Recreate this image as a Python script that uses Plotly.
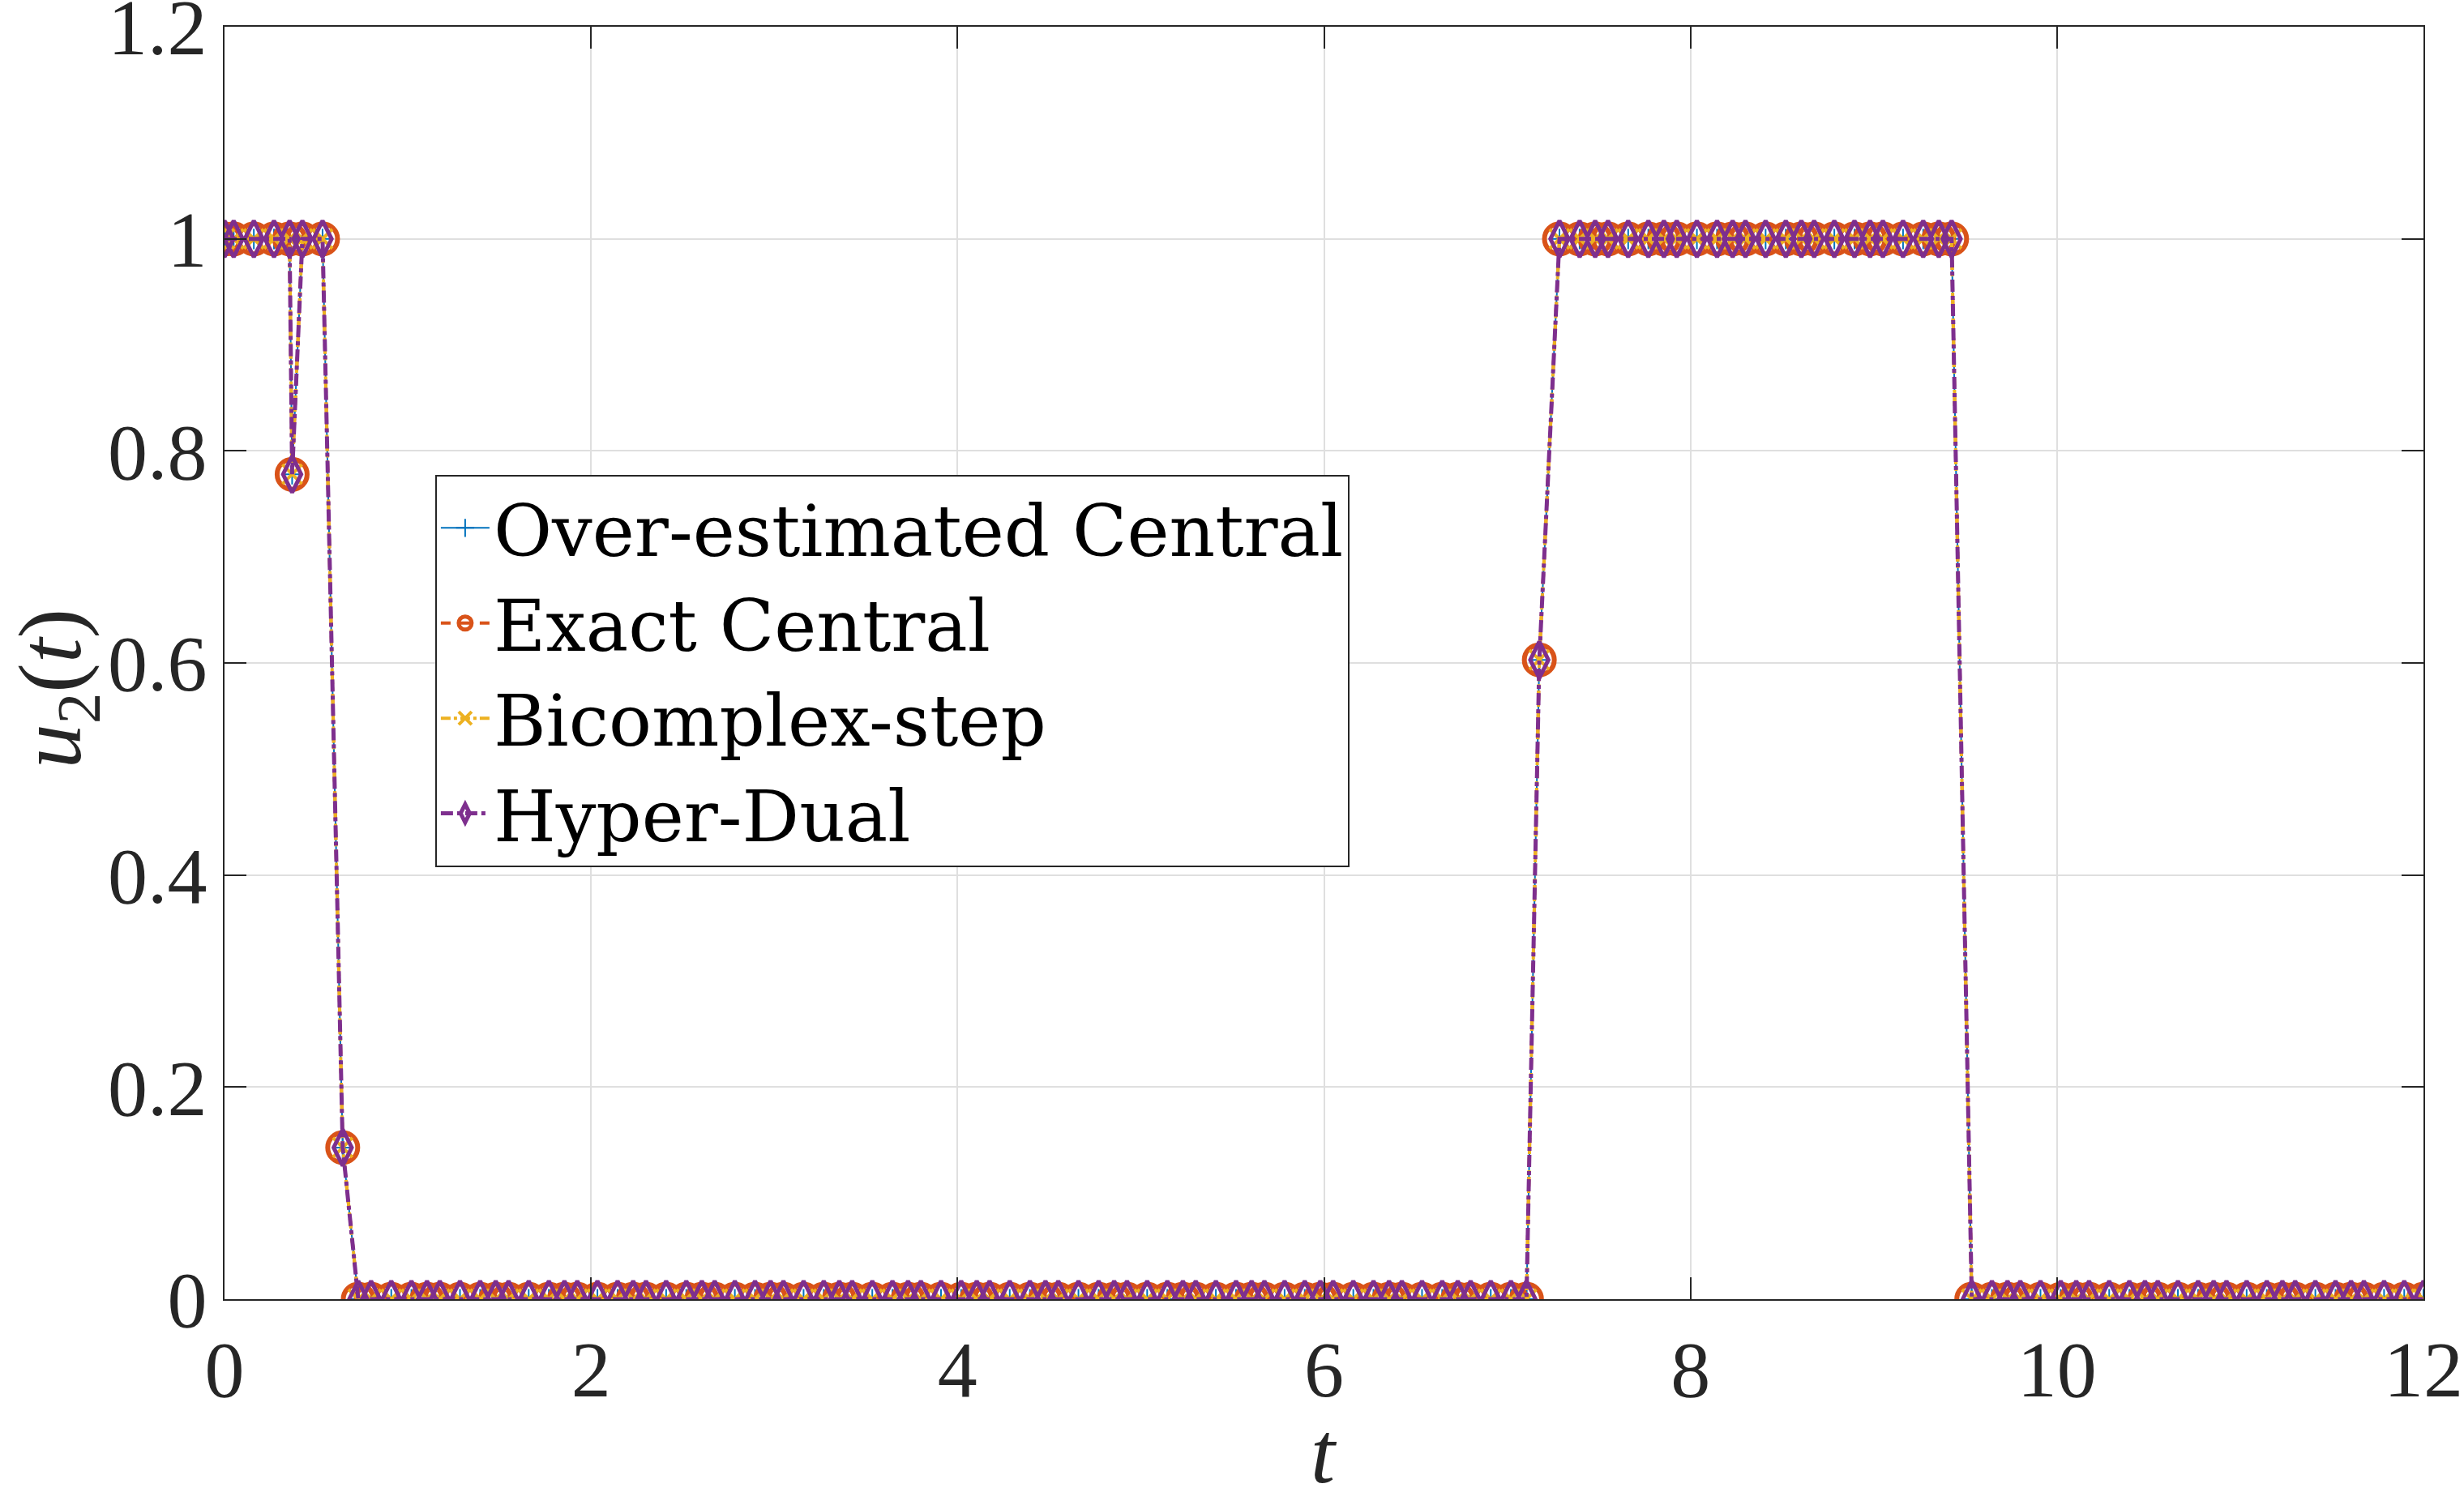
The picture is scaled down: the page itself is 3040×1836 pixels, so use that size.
import plotly.graph_objects as go

# time grid (segments of the mesh, 4 nodes each)
t = [0.0,
     0.05, 0.16, 0.27, 0.355, 0.369,
     0.425, 0.535, 0.645, 0.73,
     0.80, 0.91, 1.02, 1.105,
     1.175, 1.285, 1.395, 1.48,
     1.55, 1.66, 1.77, 1.855,
     1.925, 2.035, 2.145, 2.23,
     2.30, 2.41, 2.52, 2.605,
     2.675, 2.785, 2.895, 2.98,
     3.05, 3.16, 3.27, 3.355,
     3.425, 3.535, 3.645, 3.73,
     3.80, 3.91, 4.02, 4.105,
     4.175, 4.285, 4.395, 4.48,
     4.55, 4.66, 4.77, 4.855,
     4.925, 5.035, 5.145, 5.23,
     5.30, 5.41, 5.52, 5.605,
     5.675, 5.785, 5.895, 5.98,
     6.05, 6.16, 6.27, 6.355,
     6.425, 6.535, 6.645, 6.73,
     6.80, 6.91, 7.02, 7.105,
     7.175, 7.285, 7.395, 7.48,
     7.55, 7.66, 7.77, 7.855,
     7.925, 8.035, 8.145, 8.23,
     8.30, 8.41, 8.52, 8.605,
     8.675, 8.785, 8.895, 8.98,
     9.05, 9.16, 9.27, 9.355,
     9.425, 9.535, 9.645, 9.73,
     9.80, 9.91, 10.02, 10.105,
     10.175, 10.285, 10.395, 10.48,
     10.55, 10.66, 10.77, 10.855,
     10.925, 11.035, 11.145, 11.23,
     11.30, 11.41, 11.52, 11.605,
     11.675, 11.785, 11.895, 12.0]

# control u2(t) (all four derivative methods give the same values)
u2 = [1,
      1, 1, 1, 1, 0.778,
      1, 1, 0.143, 0,
      0, 0, 0, 0,
      0, 0, 0, 0,
      0, 0, 0, 0,
      0, 0, 0, 0,
      0, 0, 0, 0,
      0, 0, 0, 0,
      0, 0, 0, 0,
      0, 0, 0, 0,
      0, 0, 0, 0,
      0, 0, 0, 0,
      0, 0, 0, 0,
      0, 0, 0, 0,
      0, 0, 0, 0,
      0, 0, 0, 0,
      0, 0, 0, 0,
      0, 0, 0, 0,
      0, 0, 0, 0,
      0.603, 1, 1, 1,
      1, 1, 1, 1,
      1, 1, 1, 1,
      1, 1, 1, 1,
      1, 1, 1, 1,
      1, 1, 1, 1,
      1, 0, 0, 0,
      0, 0, 0, 0,
      0, 0, 0, 0,
      0, 0, 0, 0,
      0, 0, 0, 0,
      0, 0, 0, 0,
      0, 0, 0, 0]

u2_over_estimated = u2
u2_exact_central = u2
u2_bicomplex = u2
u2_hyper_dual = u2

series_names = ["Over-estimated Central", "Exact Central", "Bicomplex-step", "Hyper-Dual"]
series_values = [u2_over_estimated, u2_exact_central, u2_bicomplex, u2_hyper_dual]

x_ticks = [0, 2, 4, 6, 8, 10, 12]
x_ticktext = ["0", "2", "4", "6", "8", "10", "12"]
y_ticks = [0, 0.2, 0.4, 0.6, 0.8, 1.0, 1.2]
y_ticktext = ["0", "0.2", "0.4", "0.6", "0.8", "1", "1.2"]

styles = [
    dict(color="#0072BD", dash="solid", lw=2, symbol="cross-thin-open", msize=18, mlw=2),
    dict(color="#D95319", dash="dash", lw=4, symbol="circle-open", msize=37, mlw=6),
    dict(color="#EDB120", dash="dashdot", lw=4, symbol="x-thin-open", msize=24, mlw=4),
    dict(color="#7E2F8E", dash="dashdot", lw=5, symbol="diamond-tall-open", msize=32, mlw=5),
]

FONT = "Liberation Serif, Times New Roman, serif"
LEGFONT = "DejaVu Serif, serif"
AXC = "#262626"

fig = go.Figure()
for name, vals, st in zip(series_names, series_values, styles):
    fig.add_trace(go.Scatter(
        x=t, y=vals, name=name, mode="lines+markers",
        line=dict(color=st["color"], width=st["lw"], dash=st["dash"]),
        marker=dict(symbol=st["symbol"], size=st["msize"], color=st["color"],
                    line=dict(color=st["color"], width=st["mlw"])),
    ))

axis_common = dict(
    showline=True, linecolor=AXC, linewidth=2, mirror="ticks",
    ticks="inside", ticklen=27, tickwidth=2, tickcolor=AXC,
    showgrid=True, gridcolor="#dfdfdf", gridwidth=2,
    zeroline=False, automargin=False, ticklabeloverflow="allow",
    tickfont=dict(family=FONT, size=98, color=AXC),
)

fig.update_layout(
    width=3040, height=1836,
    paper_bgcolor="white", plot_bgcolor="white",
    margin=dict(l=277, r=50, t=33, b=233),
    font=dict(family=FONT, color="black"),
    xaxis=dict(range=[0, 12], tickvals=x_ticks, ticktext=x_ticktext, **axis_common),
    yaxis=dict(range=[0, 1.2001], tickvals=y_ticks, ticktext=y_ticktext, **axis_common),
    legend=dict(x=0.0958, y=0.648, xanchor="left", yanchor="top",
                bgcolor="white", bordercolor=AXC, borderwidth=2,
                font=dict(family=LEGFONT, size=88, color="black"),
                itemwidth=60, tracegroupgap=0),
    showlegend=True,
    annotations=[
        dict(text="<i>t</i>", xref="paper", yref="paper", x=0.5, y=-0.121,
             xanchor="center", yanchor="middle", showarrow=False,
             font=dict(family=FONT, size=108, color=AXC)),
        dict(text="<i>u</i><sub>2</sub>(<i>t</i>)", xref="paper", yref="paper",
             x=-0.076, y=0.48, xanchor="center", yanchor="middle", textangle=-90,
             showarrow=False, font=dict(family=FONT, size=110, color=AXC)),
    ],
)

fig.write_html("out.html")
